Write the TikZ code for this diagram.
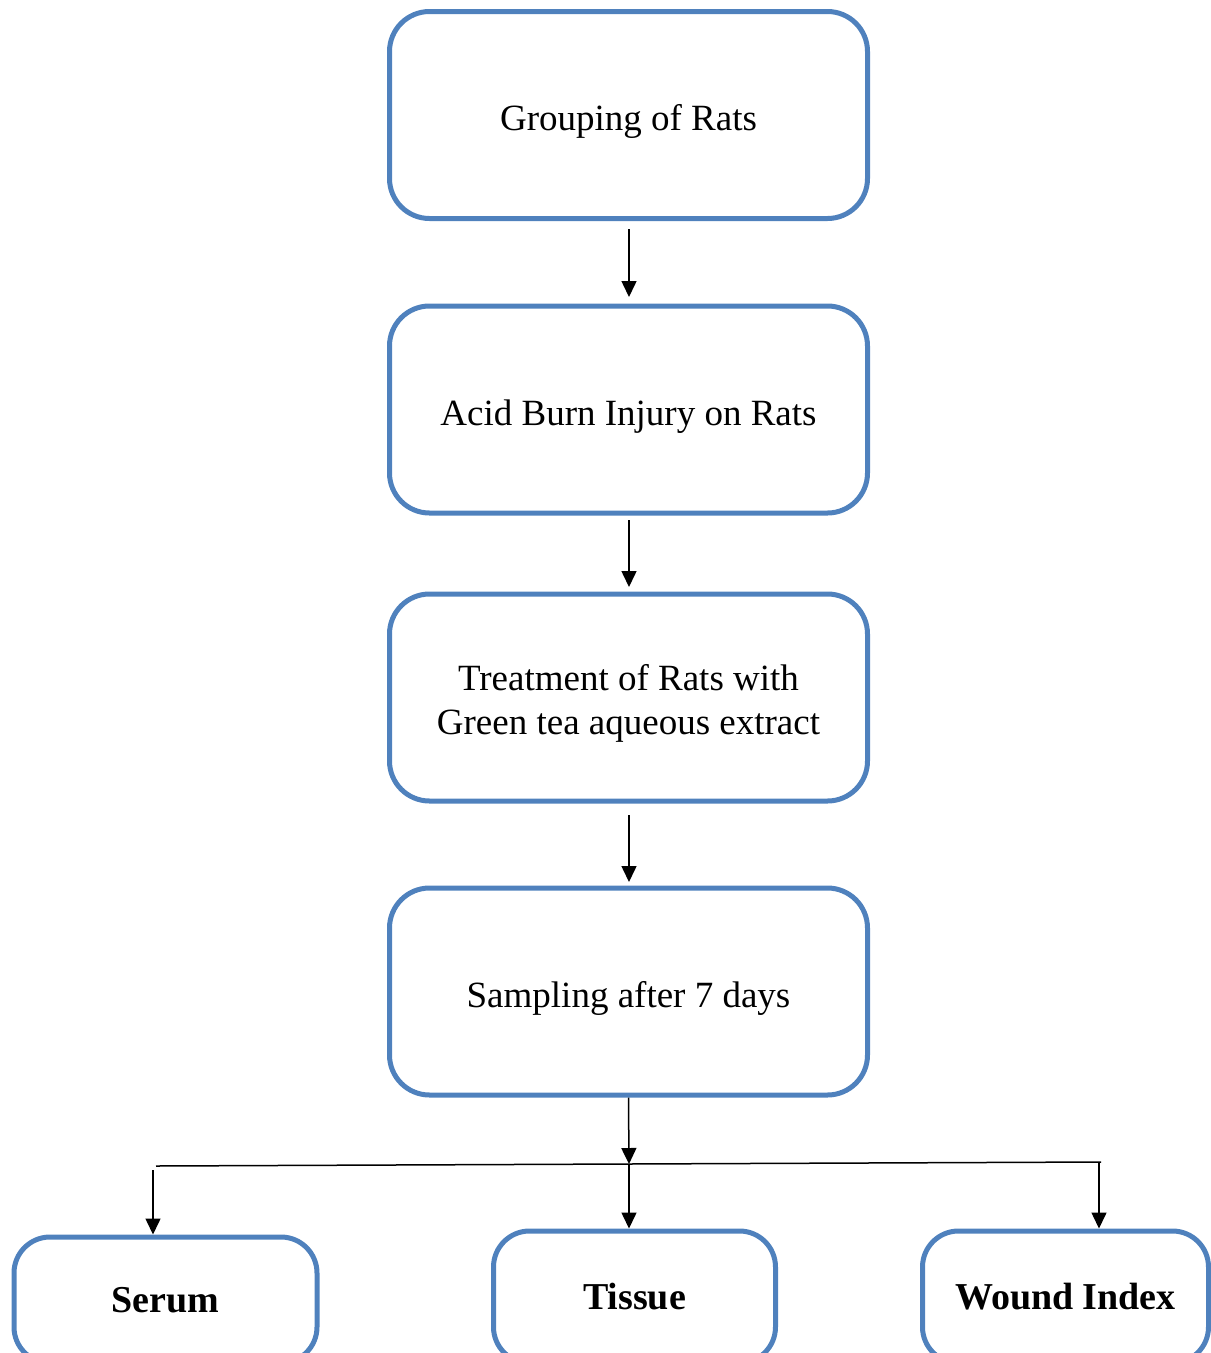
\documentclass[tikz,border=0pt]{standalone}
\usepackage{fontspec}
\setmainfont{Liberation Serif}
\usetikzlibrary{arrows.meta}
\definecolor{boxblue}{HTML}{4F81BD}
\begin{document}
\begin{tikzpicture}[x=1pt,y=-1pt,
  stepbox/.style={draw=boxblue, line width=5pt, rounded corners=40pt,
    minimum width=478pt, minimum height=207pt, align=center, inner sep=0pt,
    text height=31pt, text depth=0pt,
    font=\fontsize{37}{44}\selectfont},
  endbox/.style={draw=boxblue, line width=5pt, rounded corners=36pt,
    inner sep=0pt, font=\fontsize{38}{44}\selectfont\bfseries},
  arr/.style={line width=1.5pt, -{Triangle[width=15pt,length=16pt]}},
  ln/.style={line width=1.5pt}]
\clip (0,0) rectangle (1211,1353);
\useasboundingbox (0,0) rectangle (1211,1353);
\node[stepbox] (b1) at (628.5,115) {Grouping of Rats};
\node[stepbox] (b2) at (628.5,409.5) {Acid Burn Injury on Rats};
\node[stepbox, text height={}, text depth={}] (b3) at (628.5,697.5) {\rule{0pt}{38pt}Treatment of Rats with\\Green tea aqueous extract};
\node[stepbox] (b4) at (628.5,991.5) {Sampling after 7 days};
\node[endbox, minimum width=303pt, minimum height=126pt] (s) at (165.5,1300) {Serum};
\node[endbox, minimum width=282pt, minimum height=132pt] (t) at (634.5,1297) {Tissue};
\node[endbox, minimum width=286pt, minimum height=132pt] (w) at (1065.5,1297) {Wound Index};
\coordinate (a1s) at (629,229); \coordinate (a1e) at (629,297);
\coordinate (a2s) at (629,520); \coordinate (a2e) at (629,587);
\coordinate (a3s) at (629,815); \coordinate (a3e) at (629,882);
\coordinate (j) at (629,1164);
\coordinate (hl) at (156,1166);
\coordinate (hr) at (1101,1162);
\coordinate (ls) at (153,1170);
\coordinate (rs) at (1099,1162);
\draw[arr] (a1s) -- (a1e);
\draw[arr] (a2s) -- (a2e);
\draw[arr] (a3s) -- (a3e);
\draw[arr] (b4.south) -- (j);
\draw[ln] (hl) -- (hr);
\draw[arr] (j) -- (t.north -| j);
\draw[arr] (ls) -- (s.north -| ls);
\draw[arr] (rs) -- (w.north -| rs);
\end{tikzpicture}
\end{document}
